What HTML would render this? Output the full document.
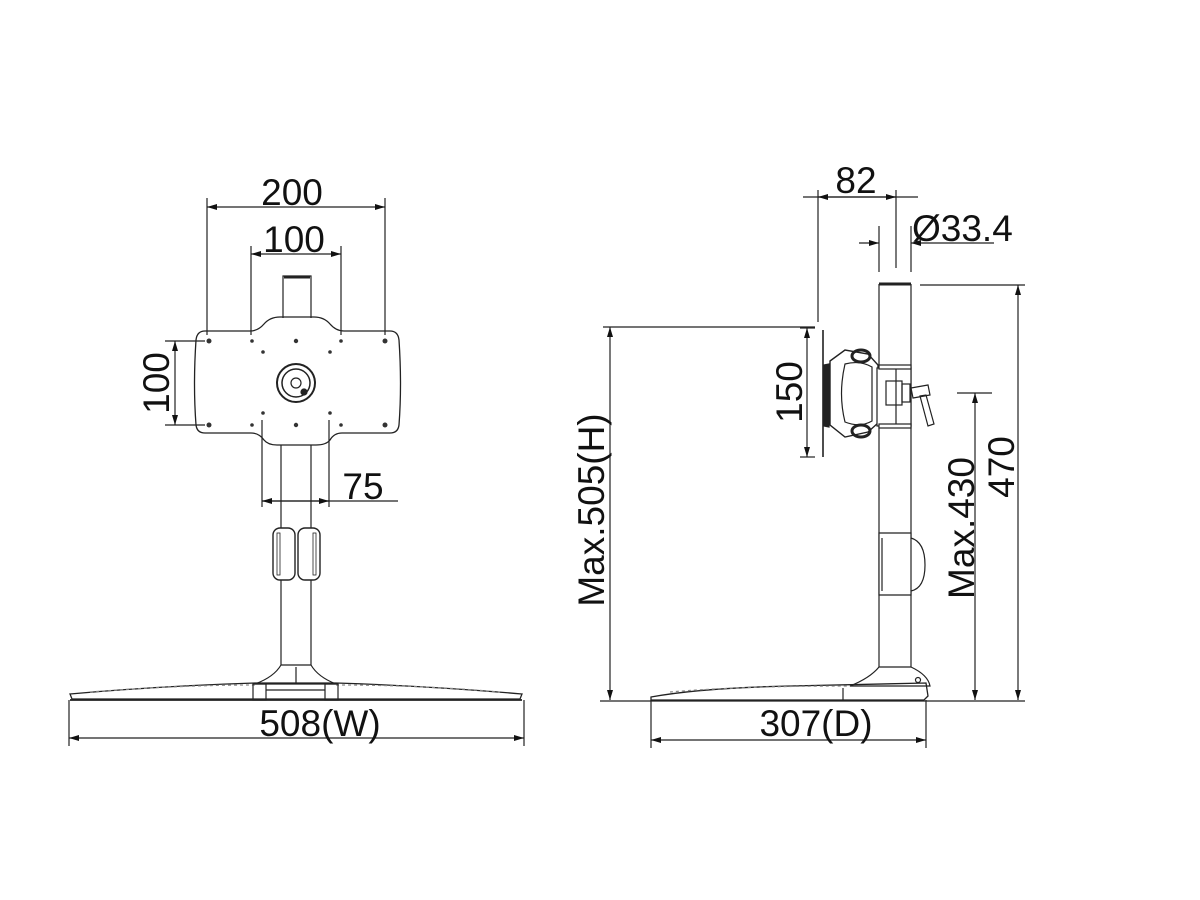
<!DOCTYPE html>
<html><head><meta charset="utf-8"><style>
html,body{margin:0;padding:0;background:#fff;}
svg{display:block;}
text{font-family:"Liberation Sans",Arial,sans-serif;fill:#111;font-size:37px;}
</style></head><body>
<svg width="1200" height="900" viewBox="0 0 1200 900" xmlns="http://www.w3.org/2000/svg">
<defs>
<marker id="a" viewBox="0 0 10 6" refX="10" refY="3" markerWidth="10" markerHeight="6" orient="auto-start-reverse" markerUnits="userSpaceOnUse"><path d="M0,0 L10,3 L0,6 z" fill="#111"/></marker>
</defs>
<g stroke="#222" stroke-width="1.2" fill="none">
<line x1="207" y1="198" x2="207" y2="335"/>
<line x1="385" y1="198" x2="385" y2="335"/>
<line x1="207" y1="207" x2="385" y2="207" marker-start="url(#a)" marker-end="url(#a)"/>
<line x1="251" y1="246" x2="251" y2="335"/>
<line x1="341" y1="246" x2="341" y2="335"/>
<line x1="251" y1="254" x2="341" y2="254" marker-start="url(#a)" marker-end="url(#a)"/>
<path d="M283,318 L283,276 L311,276 L311,318"/>
<line x1="284" y1="277" x2="310" y2="277" stroke-width="3"/>
<path d="M205,331 L250,331 Q258,331 264,324 Q270,317 280,317 L314,317 Q324,317 330,324 Q336,331 344,331 L390,331 Q398,331 399,340 Q402,385 399,425 Q398,433 390,433 L342,433 Q334,433 330,440 Q326,445 316,445 L277,445 Q268,445 264,440 Q259,433 251,433 L205,433 Q197,433 196,425 Q193,385 196,340 Q197,331 205,331 Z" stroke-width="1.3"/>
<g fill="#333" stroke="none">
<circle cx="209" cy="341" r="2.5"/><circle cx="385" cy="341" r="2.5"/>
<circle cx="209" cy="425" r="2.5"/><circle cx="385" cy="425" r="2.5"/>
<circle cx="252" cy="341" r="1.8"/><circle cx="341" cy="341" r="1.8"/>
<circle cx="252" cy="425" r="1.8"/><circle cx="341" cy="425" r="1.8"/>
<circle cx="296" cy="341" r="2.2"/><circle cx="296" cy="425" r="2.2"/>
<circle cx="263" cy="352" r="1.8"/><circle cx="330" cy="352" r="1.8"/>
<circle cx="263" cy="413" r="1.8"/><circle cx="330" cy="413" r="1.8"/>
</g>
<circle cx="296" cy="383" r="19" stroke-width="2"/>
<circle cx="296" cy="383" r="14" stroke-width="1.5"/>
<circle cx="296" cy="383" r="5"/>
<circle cx="304" cy="392" r="3" fill="#222"/>
<line x1="165" y1="341" x2="205" y2="341"/>
<line x1="165" y1="425" x2="205" y2="425"/>
<line x1="175" y1="341" x2="175" y2="425" marker-start="url(#a)" marker-end="url(#a)"/>
<line x1="262" y1="420" x2="262" y2="507"/>
<line x1="329" y1="420" x2="329" y2="507"/>
<line x1="262" y1="501" x2="398" y2="501"/>
<line x1="262" y1="501" x2="329" y2="501" marker-start="url(#a)" marker-end="url(#a)"/>
<line x1="281" y1="445" x2="281" y2="665"/>
<line x1="311" y1="445" x2="311" y2="665"/>
<rect x="273" y="528" width="22" height="52" rx="7" fill="#fff" stroke-width="1.4"/>
<rect x="277" y="533" width="3" height="42" stroke-width="0.8"/>
<rect x="298" y="528" width="22" height="52" rx="7" fill="#fff" stroke-width="1.4"/>
<rect x="313" y="533" width="3" height="42" stroke-width="0.8"/>
<path d="M281,665 L311,665 Q318,677 336,684 L255,684 Q274,677 281,665 Z" fill="#fff"/>
<line x1="296" y1="667" x2="296" y2="684"/>
<path d="M70,694 Q160,686 255,683 L336,683 Q430,686 522,694 L520,699 L72,699 Z" stroke-width="1.3"/>
<path d="M90,692 Q180,685 255,685 M336,685 Q420,685 500,692" stroke="#888" stroke-dasharray="3,3"/>
<rect x="253" y="684" width="13" height="16"/><rect x="325" y="684" width="13" height="16"/>
<line x1="266" y1="690" x2="325" y2="690"/>
<line x1="70" y1="700" x2="522" y2="700" stroke-width="1.8"/>
<line x1="69" y1="700" x2="69" y2="746"/>
<line x1="524" y1="700" x2="524" y2="746"/>
<line x1="69" y1="738" x2="524" y2="738" marker-start="url(#a)" marker-end="url(#a)"/>

<line x1="818" y1="190" x2="818" y2="322"/>
<line x1="896" y1="190" x2="896" y2="268"/>
<line x1="803" y1="197" x2="918" y2="197"/>
<line x1="818" y1="197" x2="896" y2="197" marker-start="url(#a)" marker-end="url(#a)"/>
<line x1="879" y1="226" x2="879" y2="272"/>
<line x1="911" y1="226" x2="911" y2="272"/>
<line x1="859" y1="243" x2="879" y2="243" marker-end="url(#a)"/>
<line x1="994" y1="243" x2="911" y2="243" marker-end="url(#a)"/>
<line x1="879" y1="284" x2="879" y2="667"/>
<line x1="911" y1="284" x2="911" y2="667"/>
<line x1="879" y1="284" x2="911" y2="284" stroke-width="3"/>
<line x1="920" y1="285" x2="1025" y2="285"/>
<line x1="1018" y1="285" x2="1018" y2="700" marker-start="url(#a)" marker-end="url(#a)"/>
<line x1="603" y1="327" x2="815" y2="327"/>
<line x1="610" y1="327" x2="610" y2="700" marker-start="url(#a)" marker-end="url(#a)"/>
<line x1="823" y1="330" x2="823" y2="457" stroke-width="1.6"/>
<path d="M824,365 L829,364 L829,427 L824,426 Z" fill="#222"/>
<line x1="800" y1="328" x2="815" y2="328"/>
<line x1="800" y1="457" x2="815" y2="457"/>
<line x1="807" y1="328" x2="807" y2="457" marker-start="url(#a)" marker-end="url(#a)"/>
<path d="M830,361 L845,350 L868,354 L878,365 L878,423 L868,432 L845,437 L830,425 Z" fill="#fff" stroke-width="1.4"/>
<path d="M845,364 Q860,360 872,367 L872,421 Q860,428 845,422 Q838,394 845,364 Z"/>
<ellipse cx="861" cy="356" rx="9" ry="6" stroke-width="3"/>
<ellipse cx="861" cy="431" rx="9" ry="6" stroke-width="3"/>
<rect x="877" y="368" width="34" height="58" fill="#fff"/>
<rect x="879" y="365" width="32" height="4" fill="#fff"/>
<rect x="879" y="424" width="32" height="4" fill="#fff"/>
<line x1="896" y1="369" x2="896" y2="424"/>
<rect x="886" y="381" width="16" height="24"/>
<rect x="902" y="384" width="8" height="18"/>
<path d="M911,388 L928,385 L930,395 L913,398 Z"/>
<path d="M920,396 L926,395 L934,424 L928,426 Z"/>
<line x1="957" y1="393" x2="992" y2="393"/>
<line x1="975" y1="393" x2="975" y2="700" marker-start="url(#a)" marker-end="url(#a)"/>
<path d="M879,533 L911,533 L911,538 Q925,542 925,565 Q925,588 911,591 L911,595 L879,595 Z" fill="#fff"/>
<line x1="911" y1="538" x2="911" y2="591"/>
<line x1="882" y1="538" x2="882" y2="591"/>
<path d="M879,667 Q870,678 850,686 L930,686 Q928,675 911,667 Z" fill="#fff"/>
<path d="M651,697 Q700,688 790,686 L926,683 L928,696 L924,700 L651,700 Z" stroke-width="1.3"/>
<path d="M670,692 Q740,686 850,686" stroke="#888" stroke-dasharray="3,3"/>
<circle cx="918" cy="680" r="2.5"/>
<line x1="843" y1="688" x2="843" y2="700"/>
<line x1="600" y1="701" x2="1025" y2="701" stroke-width="1.3"/>
<line x1="651" y1="700" x2="651" y2="748"/>
<line x1="926" y1="700" x2="926" y2="748"/>
<line x1="651" y1="740" x2="926" y2="740" marker-start="url(#a)" marker-end="url(#a)"/>
</g>

<text x="292" y="205" text-anchor="middle">200</text>
<text x="294" y="252" text-anchor="middle">100</text>
<text transform="translate(169,383) rotate(-90)" text-anchor="middle">100</text>
<text x="363" y="499" text-anchor="middle">75</text>
<text x="320" y="736" text-anchor="middle">508(W)</text>
<text x="856" y="193" text-anchor="middle">82</text>
<text x="912" y="241">Ø33.4</text>
<text transform="translate(802,392) rotate(-90)" text-anchor="middle">150</text>
<text transform="translate(604,510) rotate(-90)" text-anchor="middle">Max.505(H)</text>
<text transform="translate(974,528) rotate(-90)" text-anchor="middle">Max.430</text>
<text transform="translate(1014,467) rotate(-90)" text-anchor="middle">470</text>
<text x="816" y="736" text-anchor="middle">307(D)</text>
</svg>
</body></html>
